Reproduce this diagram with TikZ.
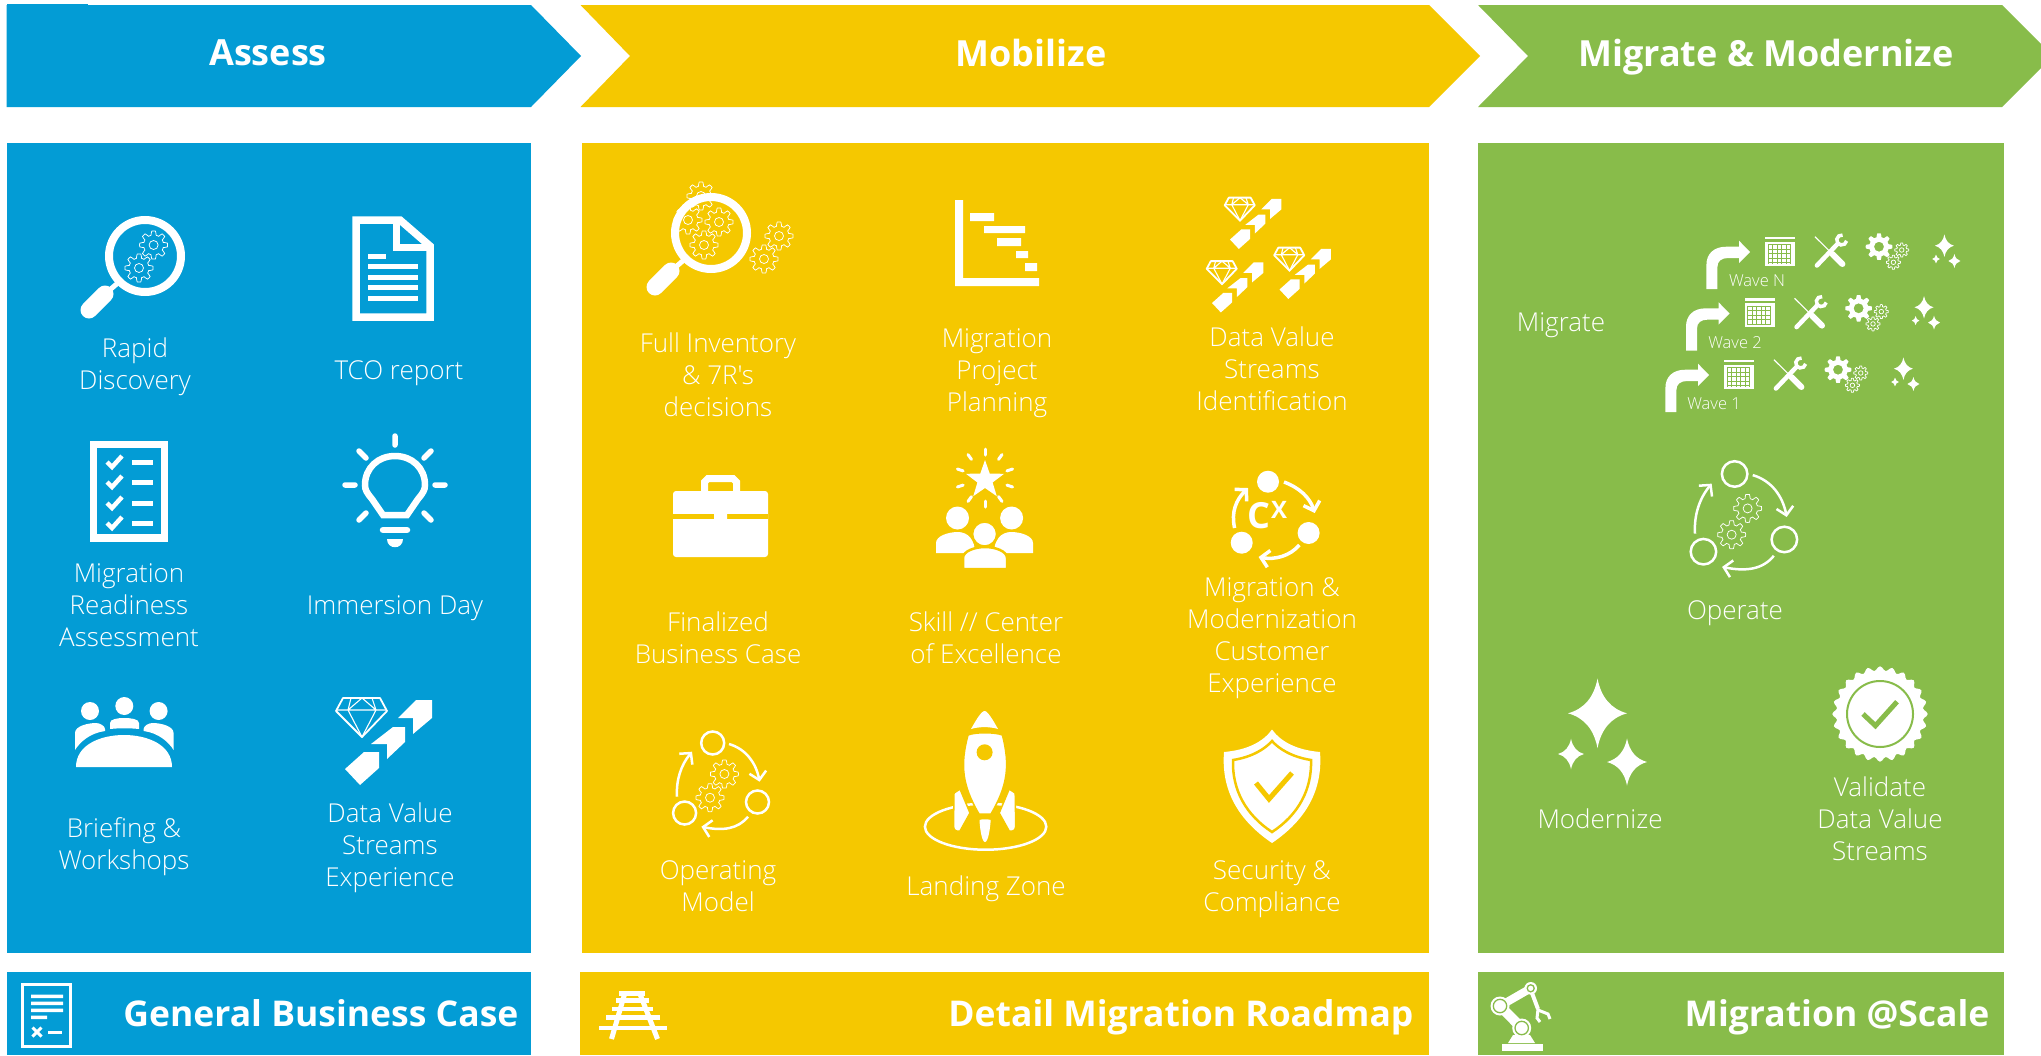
\documentclass[tikz,border=0pt]{standalone}
\usepackage{fontspec}
\setmainfont{Open Sans}
\newfontfamily\lightfont{Open Sans Light}
\usetikzlibrary{arrows.meta,calc}
\definecolor{assessblue}{HTML}{039CD5}
\definecolor{mobilizeyellow}{HTML}{F5C800}
\definecolor{migrategreen}{HTML}{88BC4A}

\begin{document}
\begin{tikzpicture}
   [x = 1pt,
   y = -1pt,
   lbl/.style = {
      text = white,
      align = center,
      text depth = 0pt,
      font = \lightfont\fontsize{26}{32}\selectfont
   },
   wavelbl/.style = {
      text = white,
      text depth = 0pt,
      font = \lightfont\fontsize{16.5}{20}\selectfont
   },
   head/.style = {
      text = white,
      text depth = 0pt,
      font = \bfseries\fontsize{36}{40}\selectfont
   },
   foot/.style = {
      text = white,
      text depth = 0pt,
      anchor = east,
      font = \bfseries\fontsize{35.5}{40}\selectfont
   },
   gearline/.style = {draw = white, line width = 0.75pt},
   cyclearrow/.style = {
      draw = white,
      line width = 2.5pt,
      -{Straight Barb[length = 8pt, width = 17pt]}
   },
   gear/.pic = {
      \draw[gearline] plot[samples = 97, domain = 0:360]
         ({(12+2*sign(cos(8*\x)))*cos(\x)}, {(12+2*sign(cos(8*\x)))*sin(\x)}) -- cycle;
      \draw[gearline] (0, 0) circle (4.5);
   },
   solidgear/.pic = {
      \fill[white, even odd rule] plot[samples = 97, domain = 0:360]
         ({(11.5+1.8*sign(cos(8*\x)))*cos(\x)}, {(11.5+1.8*sign(cos(8*\x)))*sin(\x)}) -- cycle
         (0, 0) circle (5);
   },
   magnifier/.pic = {
      \draw[white, line width = 8pt] (0, 0) circle (36);
      \draw[white, line width = 5pt] (-26, 26) -- (-40, 38);
      \draw[white, line width = 17pt, line cap = round] (-40, 38) -- (-56, 54);
   },
   sparkle/.pic = {
      \fill[white] (0, -1.18) .. controls (.12, -.55) and (.45, -.15) .. (1, 0)
         .. controls (.45, .15) and (.12, .55) .. (0, 1.18)
         .. controls (-.12, .55) and (-.45, .15) .. (-1, 0)
         .. controls (-.45, -.15) and (-.12, -.55) .. cycle;
   },
   datavalue/.pic = {
      \fill[white] (32, -41) -- (48, -41) -- (48, -23) -- (29, -7) -- (29, -23) -- (14, -23) -- cycle;
      \fill[white] (9, -14) -- (21, -14) -- (21, 1) -- (3, 18) -- (3, 3) -- (-13, 3) -- cycle;
      \fill[white] (-20, 11) -- (-5, 11) -- (-5, 27) -- (-24, 44) -- (-39, 28) -- cycle;
      \draw[white, line width = 1.8pt, line join = round] (-41, -43) -- (-4, -43) -- (3, -30) -- (-22, -4) -- (-48, -30) -- cycle;
      \draw[white, line width = 1.1pt] (-47, -31) -- (2, -31) (-33, -43) -- (-36, -31) -- (-22, -4) -- (-8, -31) -- (-12, -43) (-36, -31) -- (-22, -43) -- (-8, -31);
   },
   opcycle/.pic = {
      \draw[white, line width = 2.5pt] (-5.3, -42) circle (11.5);
      \draw[white, line width = 2.5pt] (39.5, 17) circle (11.5);
      \draw[white, line width = 2.5pt] (-33.4, 28) circle (11.5);
      \draw[cyclearrow] (11, -41) .. controls (28, -36) and (38, -22) .. (41.6, -3.3);
      \draw[cyclearrow] (30, 31.7) .. controls (20, 44) and (5, 46) .. (-16.6, 41.7);
      \draw[cyclearrow] (-41, 11.7) .. controls (-42, -5) and (-37, -20) .. (-26, -33.3);
      \pic at (6.4, -11) {gear};
      \pic at (-8, 12.7) {gear};
   },
   waverow/.pic = {
      \fill[white] (0, 0) -- (11, 0) -- (11, -22) .. controls (11, -28) and (15, -31) .. (22, -31)
         -- (32.6, -31) -- (32.6, -26) -- (43.6, -37) -- (32.6, -48.3) -- (32.6, -42.3) -- (20, -42.3)
         .. controls (7, -42.3) and (0, -35) .. (0, -24) -- cycle;
      \fill[white] (58.6, -52.3) rectangle (88.6, -50);
      \fill[white] (58.6, -47.3) rectangle (88.6, -23.3);
      \foreach \gx in {61.5, 66, 70.5, 75, 79.5, 84}
         \draw[migrategreen, line width = 0.7pt] (\gx, -45) -- (\gx, -25.5);
      \foreach \gy in {-44.5, -40, -35.5, -31, -26.5}
         \draw[migrategreen, line width = 0.7pt] (61.5, \gy) -- (84, \gy);
      \draw[white, line width = 4.5pt, line cap = round] (110.5, -23.5) -- (131, -45);
      \draw[white, line width = 3.5pt] ([shift = {(10:5)}]135.3, -49) arc (10:280:5);
      \draw[white, line width = 1.2pt] (108.6, -52.3) -- (126, -35);
      \draw[white, line width = 6pt, line cap = round] (126, -35) -- (136, -25);
      \pic at (172.6, -42.3) {solidgear};
      \pic[scale = 0.5] at (195.3, -39) {gear};
      \pic[scale = 0.5] at (187, -26.7) {gear};
      \pic[scale = 9.5] at (238, -43.3) {sparkle};
      \pic[scale = 3.8] at (229.6, -30) {sparkle};
      \pic[scale = 6] at (248, -28) {sparkle};
   }]
   \useasboundingbox (0, 0) rectangle (2041, 1055);
   \fill[white] (0, 0) rectangle (2041, 1055);

   \fill[assessblue] (6.5, 4) rectangle (88, 6);
   \fill[assessblue] (6.5, 5) -- (531, 5) -- (581, 56) -- (531, 107) -- (6.5, 107) -- cycle;
   \fill[mobilizeyellow] (580.5, 5) -- (1429, 5) -- (1480, 56) -- (1429, 107) -- (580.5, 107) -- (630, 56) -- cycle;
   \fill[migrategreen] (1478, 5) -- (2002, 5) -- (2041, 44) -- (2041, 68) -- (2002, 107) -- (1478, 107) -- (1528, 56) -- cycle;
   \node[head] (assess) at (268, 53) {Assess};
   \node[head] (mobilize) at (1031, 53) {Mobilize};
   \node[head] (migmod) at (1766, 53) {Migrate \& Modernize};

   \fill[assessblue] (7, 143) rectangle (531, 953);
   \fill[mobilizeyellow] (582, 143) rectangle (1429, 953);
   \fill[migrategreen] (1478, 143) rectangle (2004, 953);
   \fill[assessblue] (7, 972) rectangle (531, 1055);
   \fill[mobilizeyellow] (580, 972) rectangle (1429, 1055);
   \fill[migrategreen] (1478, 972) rectangle (2004, 1055);
   \node[foot] (business) at (522, 1013) {General Business Case};
   \node[foot] (roadmap) at (1417, 1013) {Detail Migration Roadmap};
   \node[foot] (atscale) at (1993, 1013) {Migration @Scale};

   \node[lbl] (rapid) at (135, 364) {Rapid\\Discovery};
   \pic at (145, 256) {magnifier};
   \pic at (153.6, 245) {gear};
   \pic at (139, 268) {gear};

   \node[lbl] (tco) at (399, 370) {TCO report};
   \draw[white, line width = 7.5pt] (400, 220) -- (356, 220) -- (356, 317) -- (430, 317) -- (430, 246) -- cycle;
   \draw[white, line width = 7pt] (396, 220) -- (396, 247) -- (430, 247);
   \fill[white] (368, 254) rectangle (386, 259);
   \foreach \ly in {264, 275, 285, 296}
      \fill[white] (368, \ly) rectangle (418, \ly + 5);

   \node[lbl] (readiness) at (129, 605) {Migration\\Readiness\\Assessment};
   \draw[white, line width = 7.5pt] (93.5, 444.5) rectangle (164.5, 538);
   \foreach \ly in {462, 482, 503, 523} {
      \draw[white, line width = 4.5pt] (107, \ly) -- (112, \ly + 5) -- (122, \ly - 6);
      \fill[white] (132, \ly - 2.5) rectangle (153, \ly + 2.5);
   }

   \node[lbl] (immersion) at (395, 605) {Immersion Day};
   \draw[white, line width = 6.5pt] (383, 515) -- (372, 499) .. controls (367, 493) and (365, 490) .. (365, 485)
      .. controls (365, 468) and (378, 456) .. (395, 456) .. controls (412, 456) and (425, 468) .. (425, 485)
      .. controls (425, 490) and (423, 493) .. (418, 499) -- (407, 515) -- cycle;
   \draw[white, line width = 6.5pt, line cap = round] (383, 530) -- (407, 530);
   \fill[white] (387, 539) -- (403, 539) .. controls (403, 550) and (387, 550) .. cycle;
   \draw[white, line width = 5.5pt, line cap = round] (395, 436) -- (395, 445) (345, 485) -- (355, 485) (435, 485) -- (445, 485)
      (359, 451) -- (366, 458) (431, 451) -- (424, 458) (359, 520) -- (366, 513) (431, 520) -- (424, 513);

   \node[lbl] (briefing) at (124, 844) {Briefing \&\\Workshops};
   \fill[white] (76, 767) .. controls (76, 745) and (100, 735) .. (124, 735) .. controls (148, 735) and (172, 745) .. (172, 767) -- cycle;
   \fill[white] (90, 711) circle (9) (124.3, 706) circle (9) (158.6, 711) circle (9);
   \fill[white] (110, 729) -- (110, 723) .. controls (110, 719) and (118, 718) .. (124, 718) .. controls (131, 718) and (139, 719) .. (139, 723) -- (139, 729) .. controls (130, 728) and (119, 728) .. cycle;
   \fill[white] (75, 750) -- (75, 733) .. controls (75, 726) and (88, 723) .. (96, 723) .. controls (100, 723) and (105, 726) .. (105, 729) -- (105, 731) .. controls (90, 733) and (80, 742) .. cycle;
   \fill[white] (173.6, 750) -- (173.6, 733) .. controls (173.6, 726) and (160.6, 723) .. (152.6, 723) .. controls (148.6, 723) and (143.6, 726) .. (143.6, 729) -- (143.6, 731) .. controls (158.6, 733) and (168.6, 742) .. cycle;

   \node[lbl] (streams) at (390, 845) {Data Value\\Streams\\Experience};
   \pic at (384, 741) {datavalue};

   \node[lbl] (inventory) at (718, 375) {Full Inventory\\\& 7R's\\decisions};
   \pic at (711, 233) {magnifier};
   \foreach \gx/\gy in {701/196, 688/220, 719/222, 704/245, 779/236, 764/259}
      \pic at (\gx, \gy) {gear};

   \node[lbl] (planning) at (997, 370) {Migration\\Project\\Planning};
   \fill[white] (955, 200) rectangle (963, 286) (955, 278) rectangle (1039, 286);
   \fill[white] (970, 213) rectangle (994, 221) (984, 226) rectangle (1025, 233) (997, 238) rectangle (1021, 246)
      (1016, 251) rectangle (1028, 258) (1025, 263) rectangle (1037, 271);

   \node[lbl] (identify) at (1272, 369) {Data Value\\Streams\\Identification};
   \pic[scale = 0.59] at (1253, 223) {datavalue};
   \pic[scale = 0.59] at (1302.5, 273) {datavalue};
   \pic[scale = 0.59] at (1235, 286.5) {datavalue};

   \node[lbl] (finalized) at (718, 638) {Finalized\\Business Case};
   \draw[white, line width = 7pt] (704.5, 491) -- (704.5, 482) -- (708, 478.5) -- (733, 478.5) -- (736.5, 482) -- (736.5, 491);
   \fill[white, rounded corners = 3pt] (673, 491) rectangle (768, 557);
   \fill[mobilizeyellow] (673, 514) rectangle (768, 519);
   \fill[white, rounded corners = 2pt] (714, 512) rectangle (727, 527);

   \node[lbl] (skill) at (986, 638) {Skill // Center\\of Excellence};
   \fill[white, shift = {(985, 480)}] plot[samples = 10, domain = 0:9]
      ({(mod(round(\x),2)==0?20:8)*cos(-90+36*\x)}, {(mod(round(\x),2)==0?20:8)*sin(-90+36*\x)}) -- cycle;
   \foreach \ra in {-90, -54, -18, 18, 54, 90, 126, 162, 198, 234}
      \draw[white, line width = 3pt, line cap = round, shift = {(985, 478)}] (\ra:23) -- (\ra:29);
   \fill[white] (957.5, 518) circle (11.5) (1011.6, 518) circle (11.5);
   \fill[white] (936, 553) -- (936, 543) .. controls (936, 536) and (948, 532) .. (958, 532) .. controls (968, 532) and (975, 540) .. (975, 553) -- cycle;
   \fill[white] (1033, 553) -- (1033, 543) .. controls (1033, 536) and (1021, 532) .. (1011, 532) .. controls (1001, 532) and (994, 540) .. (994, 553) -- cycle;
   \filldraw[fill = white, draw = mobilizeyellow, line width = 2.5pt] (984.6, 534) circle (12.5);
   \filldraw[fill = white, draw = mobilizeyellow, line width = 2.5pt] (963, 569) -- (963, 558) .. controls (963, 551) and (975, 547) .. (985, 547) .. controls (995, 547) and (1007, 551) .. (1007, 558) -- (1007, 569) -- cycle;

   \node[lbl] (experience) at (1272, 635) {Migration \&\\Modernization\\Customer\\Experience};
   \fill[white] (1268, 481.7) circle (11) (1308.6, 533) circle (11) (1241.7, 542.7) circle (11);
   \draw[cyclearrow, line width = 3.5pt] (1284, 482) .. controls (1300, 488) and (1310, 498) .. (1314.7, 513);
   \draw[cyclearrow, line width = 3.5pt] (1299.4, 545) .. controls (1290, 556) and (1275, 560) .. (1258.6, 557);
   \draw[cyclearrow, line width = 3.5pt] (1234.6, 528) .. controls (1231, 512) and (1236, 500) .. (1248, 488);
   \node[text = white, font = \bfseries\fontsize{36}{36}\selectfont] (cxc) at (1258.6, 516) {C};
   \node[text = white, font = \bfseries\fontsize{24}{24}\selectfont] (cxx) at (1279, 510) {X};

   \node[lbl] (opmodel) at (718, 886) {Operating\\Model};
   \pic at (718, 785) {opcycle};

   \node[lbl] (landing) at (986, 886) {Landing Zone};
   \draw[white, line width = 2.5pt] (985.6, 826.7) ellipse (60.7 and 23);
   \fill[white] (971, 729) .. controls (975, 722) and (981, 711) .. (984.6, 711) .. controls (988, 711) and (994, 722) .. (998, 729) .. controls (990, 726.5) and (979, 726.5) .. cycle;
   \filldraw[fill = white, draw = mobilizeyellow, line width = 1.5pt] (968, 735) .. controls (975, 732) and (995, 732) .. (1002.4, 735)
      .. controls (1010, 765) and (1008, 785) .. (991, 814) -- (979, 814) .. controls (962, 785) and (960, 765) .. cycle;
   \fill[mobilizeyellow] (984.6, 752.3) circle (8);
   \filldraw[fill = white, draw = mobilizeyellow, line width = 1.5pt] (954, 793) -- (960, 789) -- (970, 813) -- (960, 831) .. controls (956, 832) and (953.5, 830) .. (953.5, 826) -- cycle;
   \filldraw[fill = white, draw = mobilizeyellow, line width = 1.5pt] (1015.2, 793) -- (1009.2, 789) -- (999.2, 813) -- (1009.2, 831) .. controls (1013.2, 832) and (1015.7, 830) .. (1015.7, 826) -- cycle;
   \fill[white] (979.5, 820) .. controls (982, 819) and (988, 819) .. (990.7, 820) .. controls (990, 830) and (988, 842) .. (985, 842) .. controls (982, 842) and (980, 830) .. cycle;

   \node[lbl] (security) at (1272, 886) {Security \&\\Compliance};
   \fill[white] (1272, 729.5) .. controls (1281, 742) and (1297, 750) .. (1320, 752) .. controls (1323, 790) and (1306, 820) .. (1272, 843)
      .. controls (1238, 820) and (1221, 790) .. (1224, 752) .. controls (1247, 750) and (1263, 742) .. cycle;
   \draw[mobilizeyellow, line width = 2.5pt] (1272, 741) .. controls (1279, 749) and (1292, 757) .. (1311, 760) .. controls (1312, 790) and (1298, 815) .. (1272, 832)
      .. controls (1246, 815) and (1232, 790) .. (1233, 760) .. controls (1252, 757) and (1265, 749) .. cycle;
   \draw[mobilizeyellow, line width = 5pt] (1256, 783) -- (1269, 799) -- (1292, 773);

   \node[lbl] (migrate) at (1561, 322) {Migrate};
   \pic at (1706.4, 289) {waverow};
   \pic at (1686, 350.6) {waverow};
   \pic at (1665.4, 412) {waverow};
   \node[wavelbl] (waven) at (1757, 281) {Wave N};
   \node[wavelbl] (wave2) at (1735, 343) {Wave 2};
   \node[wavelbl] (wave1) at (1714, 403.5) {Wave 1};

   \node[lbl] (operate) at (1735, 610) {Operate};
   \pic[scale = 1.11] at (1740.5, 520.6) {opcycle};

   \node[lbl] (modernize) at (1600, 819) {Modernize};
   \pic[scale = 29.5] at (1597.5, 713.3) {sparkle};
   \pic[scale = 13] at (1571, 754) {sparkle};
   \pic[scale = 20] at (1627, 762) {sparkle};

   \node[lbl] (validate) at (1880, 819) {Validate\\Data Value\\Streams};
   \fill[white, shift = {(1880, 714)}] plot[samples = 145, domain = 0:360]
      ({(45.5+2.2*cos(24*\x))*cos(\x)}, {(45.5+2.2*cos(24*\x))*sin(\x)}) -- cycle;
   \draw[migrategreen, line width = 2pt] (1880, 714) circle (33);
   \draw[migrategreen, line width = 5pt] (1863, 714) -- (1875.4, 725.7) -- (1897, 701.7);

   \draw[white, line width = 2.5pt] (22.5, 984.5) rectangle (70.5, 1046.5);
   \fill[white] (31, 994.5) rectangle (63, 998) (31, 1001.5) rectangle (63, 1005) (31, 1008.5) rectangle (63, 1012) (31, 1015.5) rectangle (47, 1019);
   \fill[white] (47.5, 1030.5) rectangle (62, 1034);
   \draw[white, line width = 3pt] (32.5, 1027.5) -- (41.5, 1036.5) (32.5, 1036.5) -- (41.5, 1027.5);

   \draw[white, line width = 5pt] (625, 992.7) -- (611.5, 1039) (639.5, 992.7) -- (657.5, 1039);
   \foreach \ty/\tl/\tr in {993.5/619/645, 1000.7/616/649, 1009/612/653, 1017.7/606/660, 1028/599/667}
      \draw[white, line width = 4.5pt] (\tl, \ty) -- (\tr, \ty);

   \fill[white] (1501.7, 1044) rectangle (1543, 1051);
   \fill[white] (1508, 1043) -- (1535, 1043) -- (1530, 1035) -- (1513, 1035) -- cycle;
   \draw[white, line width = 10pt] (1521.7, 1028) -- (1500, 1006);
   \draw[white, line width = 8pt] (1500, 1006) -- (1530.7, 988.3);
   \foreach \jx/\jy/\jr in {1521.7/1028/9.5, 1500/1006/9.5, 1530.7/988.3/6.3} {
      \fill[white] (\jx, \jy) circle (\jr);
      \draw[migrategreen, line width = 1.3pt] (\jx, \jy) circle (\jr - 2.8);
   }
   \draw[white, line width = 4pt] (1532, 993) -- (1538, 1009);
   \draw[white, line width = 3pt] (1538, 1009) -- (1537, 1018) -- (1540, 1022) (1538, 1010) -- (1548, 1014) -- (1550, 1019);
\end{tikzpicture}
\end{document}
